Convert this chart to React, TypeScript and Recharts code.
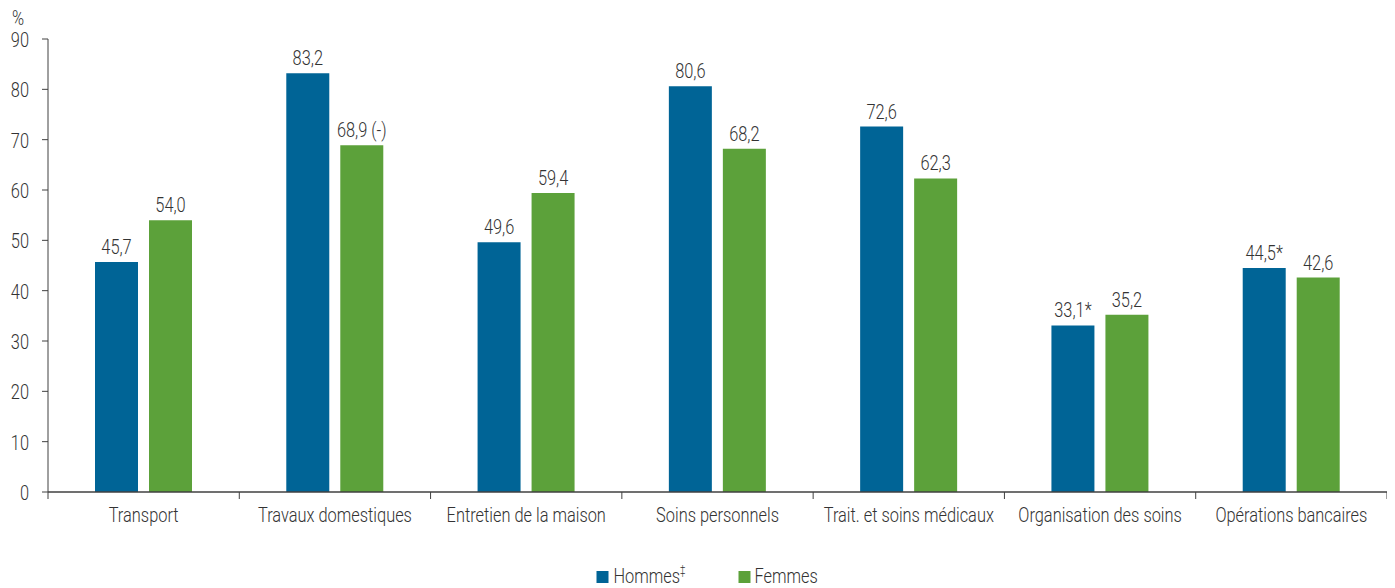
import React from 'react';
import { BarChart, Bar, XAxis, YAxis, Legend, LabelList, Label } from 'recharts';

const categories = [
  'Transport',
  'Travaux domestiques',
  'Entretien de la maison',
  'Soins personnels',
  'Trait. et soins médicaux',
  'Organisation des soins',
  'Opérations bancaires',
];
const hommes = [45.7, 83.2, 49.6, 80.6, 72.6, 33.1, 44.5];
const femmes = [54.0, 68.9, 59.4, 68.2, 62.3, 35.2, 42.6];
const hommesNotes = ['', '', '', '', '', '*', '*'];
const femmesNotes = ['', ' (-)', '', '', '', '', ''];
const yTicks = [0, 10, 20, 30, 40, 50, 60, 70, 80, 90];

const BLUE = '#006496';
const GREEN = '#5ca13a';
const TEXT = '#333333';
const AXIS = '#404040';
const FONT = 'Roboto, "Liberation Sans", sans-serif';
const FS = 21;
const FW = 300;
const SX = 0.78;

const fmt = (v: number) => v.toFixed(1).replace('.', ',');

const data = categories.map((c, i) => ({
  name: c,
  hommes: hommes[i],
  femmes: femmes[i],
  hLabel: fmt(hommes[i]) + hommesNotes[i],
  fLabel: fmt(femmes[i]) + femmesNotes[i],
}));

const CText = ({ x, y, anchor = 'middle', children }: any) => (
  <text
    transform={`translate(${x} ${y}) scale(${SX} 1)`}
    x={0}
    y={0}
    textAnchor={anchor}
    fill={TEXT}
    fontSize={FS}
    fontWeight={FW}
    fontFamily={FONT}
  >
    {children}
  </text>
);

const XTick = (props: any) => {
  const { x, y, payload, index, visibleTicksCount } = props;
  const half = payload && payload.offset ? payload.offset : 0;
  const last = index === (visibleTicksCount ?? categories.length) - 1;
  return (
    <g>
      <line x1={x - half} x2={x - half} y1={y} y2={y + 7} stroke={AXIS} strokeWidth={1} />
      {last && <line x1={x + half} x2={x + half} y1={y} y2={y + 7} stroke={AXIS} strokeWidth={1} />}
      <CText x={x} y={y + 30}>{payload.value}</CText>
    </g>
  );
};

const YTick = (props: any) => {
  const { x, y, payload } = props;
  return <CText x={x} y={y + 8} anchor="end">{payload.value}</CText>;
};

const BarLabel = (props: any) => {
  const { x, y, width, value } = props;
  return <CText x={Number(x) + Number(width) / 2} y={Number(y) - 8}>{value}</CText>;
};

const PercentLabel = (props: any) => {
  const vb = props.viewBox || { x: 8, y: 39 };
  return <CText x={vb.x + 4} y={vb.y - 14} anchor="start">%</CText>;
};

const LegendContent = () => {
  const w = 1387;
  const c = w / 2;
  return (
    <svg width={w} height={24} style={{ display: 'block' }}>
      <rect x={c - 105} y={7} width={12} height={12} fill={BLUE} />
      <text
        transform={`translate(${c - 88} 19) scale(${SX} 1)`}
        fill={TEXT}
        fontSize={FS}
        fontWeight={FW}
        fontFamily={FONT}
      >
        Hommes
        <tspan fontSize={12} dy={-9}>‡</tspan>
      </text>
      <rect x={c + 37} y={7} width={12} height={12} fill={GREEN} />
      <CText x={c + 53} y={19} anchor="start">Femmes</CText>
    </svg>
  );
};

export default function App() {
  return (
    <div style={{ width: 1395, height: 588, marginTop: -8, marginLeft: -8 }}>
      <BarChart
        width={1395}
        height={588}
        data={data}
        margin={{ top: 39, right: 8, left: 8, bottom: 0 }}
        barSize={43}
        barGap={11}
      >
        <XAxis
          dataKey="name"
          interval={0}
          height={72}
          tickSize={0}
          tickMargin={0}
          tick={<XTick />}
          axisLine={{ stroke: AXIS, strokeWidth: 1.5 }}
          tickLine={false}
        />
        <YAxis
          domain={[0, 90]}
          ticks={yTicks}
          interval={0}
          width={40}
          tickSize={6}
          tickMargin={13}
          axisLine={{ stroke: AXIS, strokeWidth: 1 }}
          tickLine={{ stroke: AXIS }}
          tick={<YTick />}
        >
          <Label content={<PercentLabel />} position="top" />
        </YAxis>
        <Legend verticalAlign="bottom" height={24} content={<LegendContent />} />
        <Bar dataKey="hommes" name="Hommes" fill={BLUE} isAnimationActive={false}>
          <LabelList dataKey="hLabel" position="top" content={<BarLabel />} />
        </Bar>
        <Bar dataKey="femmes" name="Femmes" fill={GREEN} isAnimationActive={false}>
          <LabelList dataKey="fLabel" position="top" content={<BarLabel />} />
        </Bar>
      </BarChart>
    </div>
  );
}
